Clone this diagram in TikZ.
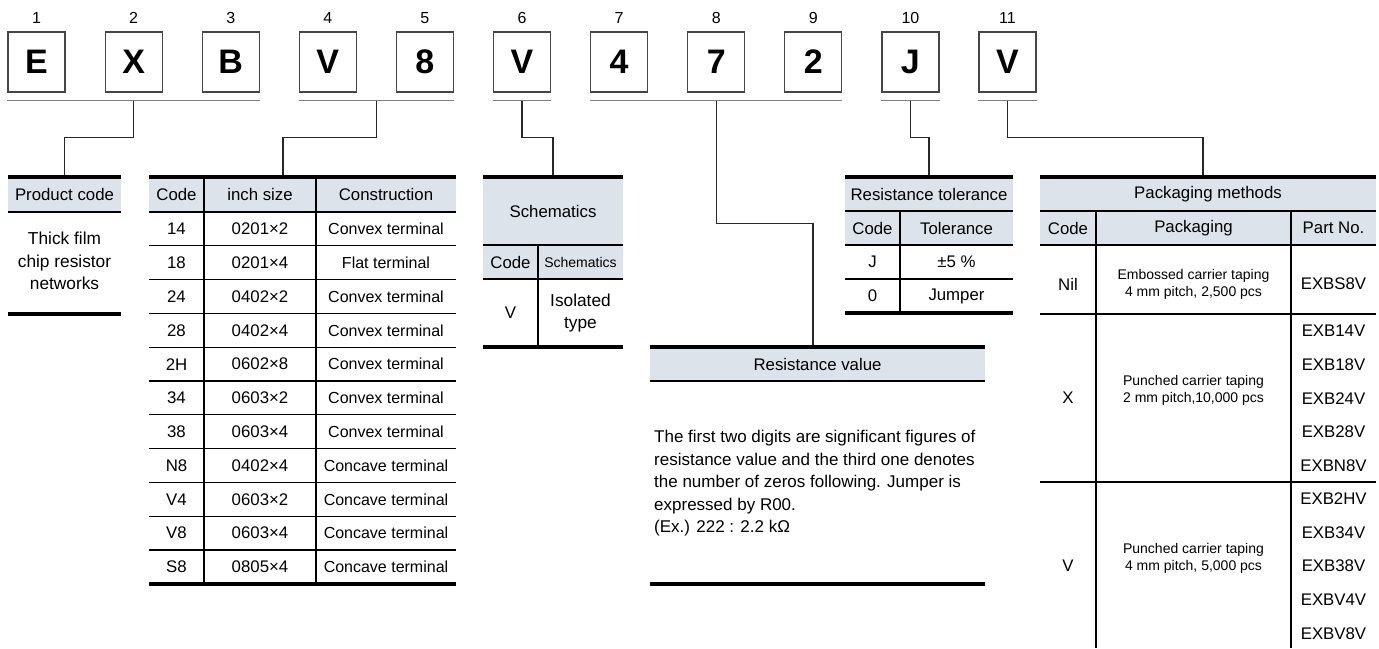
\documentclass[tikz,border=0pt]{standalone}
\usepackage{fontspec}
\setmainfont{Liberation Sans}
\usetikzlibrary{positioning}
\definecolor{headerColor}{RGB}{220,227,235}
\definecolor{boxColor}{RGB}{70,70,70}
\definecolor{ruleColor}{RGB}{128,128,128}
\definecolor{leaderColor}{RGB}{40,40,40}
\tikzstyle{sheet} = [x = 1pt, y = -1pt]
\tikzstyle{charBox} = [draw=boxColor, line width=1.2pt, minimum width=57pt, minimum height=60pt, inner sep=0pt, font=\fontsize{34}{34}\selectfont\bfseries]
\tikzstyle{numText} = [inner sep=0pt, font=\fontsize{16}{16}\selectfont]
\tikzstyle{groupLine} = [color=ruleColor, line width=1.3pt]
\tikzstyle{leaderLine} = [color=leaderColor, line width=1.3pt]
\tikzstyle{thickLine} = [color=black, line width=4pt]
\tikzstyle{tableLine} = [color=black, line width=1.3pt]
\tikzstyle{headerFill} = [fill=headerColor]
\tikzstyle{cellText} = [inner sep=0pt, font=\fontsize{16.8}{19}\selectfont, align=center]
\tikzstyle{kindText} = [inner sep=0pt, font=\fontsize{16}{19}\selectfont, align=center]
\tikzstyle{smallText} = [inner sep=0pt, font=\fontsize{14}{17}\selectfont, align=center]
\tikzstyle{bodyText} = [inner sep=0pt, font=\fontsize{17.3}{22.5}\selectfont, align=center]
\tikzstyle{noteText} = [inner sep=0pt, font=\fontsize{17}{22.5}\selectfont, align=left, anchor=north west]
\newcommand{\headerBand}[4]{\fill [headerFill] (#1, #2) rectangle (#3, #4);}
\newcommand{\thickRule}[3]{\draw [thickLine] (#1, #3) -- (#2, #3);}
\newcommand{\thinRule}[3]{\draw [tableLine] (#1, #3) -- (#2, #3);}
\newcommand{\columnRule}[3]{\draw [tableLine] (#1, #2) -- (#1, #3);}
\begin{document}
\begin{tikzpicture}[sheet]
  \useasboundingbox (0, 0) rectangle (1379, 648);

  % part number boxes
  \foreach \i/\ch in {1/E,2/X,3/B,4/V,5/8,6/V,7/4,8/7,9/2,10/J,11/V} {
    \node [charBox] (c\i) at ({36.5 + 97.1*(\i-1)}, 62) {\ch};
    \node [numText, above=8pt of c\i] (n\i) {\i};
  }
  \draw [groupLine] ([yshift=-8pt]c1.south west) -- ([yshift=-8pt]c3.south east);
  \draw [groupLine] ([yshift=-8pt]c4.south west) -- ([yshift=-8pt]c5.south east);
  \draw [groupLine] ([yshift=-8pt]c6.south west) -- ([yshift=-8pt]c6.south east);
  \draw [groupLine] ([yshift=-8pt]c7.south west) -- ([yshift=-8pt]c9.south east);
  \draw [groupLine] ([yshift=-8pt]c10.south west) -- ([yshift=-8pt]c10.south east);
  \draw [groupLine] ([yshift=-8pt]c11.south west) -- ([yshift=-8pt]c11.south east);

  % leaders
  \coordinate (u1) at ([yshift=-8pt]c2.south);
  \coordinate (u2) at ([yshift=-8pt, xshift=48.55pt]c4.south);
  \coordinate (u3) at ([yshift=-8pt]c6.south);
  \coordinate (u4) at ([yshift=-8pt]c8.south);
  \coordinate (u5) at ([yshift=-8pt]c10.south);
  \coordinate (u6) at ([yshift=-8pt]c11.south);
  \coordinate (t1) at (64.5, 177);
  \coordinate (t2) at (283, 177);
  \coordinate (t3) at (553, 177);
  \coordinate (t4) at (813, 347);
  \coordinate (t5) at (929, 177);
  \coordinate (t6) at (1203, 177);
  \draw [leaderLine] (u1) -- ++(0, 37) -| (t1);
  \draw [leaderLine] (u2) -- ++(0, 37) -| (t2);
  \draw [leaderLine] (u3) -- ++(0, 37) -| (t3);
  \draw [leaderLine] (u4) -- ++(0, 123) -| (t4);
  \draw [leaderLine] (u5) -- ++(0, 37) -| (t5);
  \draw [leaderLine] (u6) -- ++(0, 37) -| (t6);

  % product code
  \headerBand{8}{177}{121}{212}
  \thickRule{8}{121}{177}
  \thinRule{8}{121}{212}
  \thickRule{8}{121}{314}
  \node [cellText] (productHead) at (64.5, 194.5) {Product code};
  \node [bodyText] (productBody) at (64.5, 261) {Thick film\\chip resistor\\networks};

  % size code
  \headerBand{149}{177}{456}{212}
  \thickRule{149}{456}{177}
  \foreach \r in {0,...,10} {
    \thinRule{149}{456}{212 + 33.8*\r}
  }
  \thickRule{149}{456}{584}
  \columnRule{204}{177}{584}
  \columnRule{316}{177}{584}
  \node [cellText] (codeHead) at (176.5, 194.5) {Code};
  \node [cellText] (sizeHead) at (260, 194.5) {inch size};
  \node [cellText] (kindHead) at (386, 194.5) {Construction};
  \foreach \code/\size/\kind [count=\r from 0] in {14/0201×2/Convex terminal, 18/0201×4/Flat terminal,
      24/0402×2/Convex terminal, 28/0402×4/Convex terminal, 2H/0602×8/Convex terminal,
      34/0603×2/Convex terminal, 38/0603×4/Convex terminal, N8/0402×4/Concave terminal,
      V4/0603×2/Concave terminal, V8/0603×4/Concave terminal, S8/0805×4/Concave terminal} {
    \node [cellText] (code\r) at (176.5, {229 + 33.8*\r}) {\code};
    \node [cellText] (size\r) at (260, {229 + 33.8*\r}) {\size};
    \node [kindText] (kind\r) at (386, {229 + 33.8*\r}) {\kind};
  }

  % schematics
  \headerBand{483}{177}{623}{279}
  \thickRule{483}{623}{177}
  \thinRule{483}{623}{245}
  \thinRule{483}{623}{279}
  \thickRule{483}{623}{347}
  \columnRule{538}{245}{347}
  \node [cellText] (schemHead) at (553, 211) {Schematics};
  \node [cellText] (schemCode) at (510.5, 262) {Code};
  \node [smallText] (schemSub) at (580.5, 262) {Schematics};
  \node [cellText] (schemV) at (510.5, 313) {V};
  \node [bodyText] (schemType) at (580.5, 313) {Isolated\\type};

  % resistance tolerance
  \headerBand{845}{177}{1013}{245}
  \thickRule{845}{1013}{177}
  \thinRule{845}{1013}{211}
  \thinRule{845}{1013}{245}
  \thinRule{845}{1013}{279}
  \thickRule{845}{1013}{313}
  \columnRule{900}{211}{313}
  \node [cellText] (tolHead) at (929, 194) {Resistance tolerance};
  \node [cellText] (tolCode) at (872.5, 228) {Code};
  \node [cellText] (tolSub) at (956.5, 228) {Tolerance};
  \node [cellText] (tolJ) at (872.5, 262) {J};
  \node [cellText] (tolFive) at (956.5, 262) {±5 \%};
  \node [cellText] (tolZero) at (872.5, 296) {0};
  \node [cellText] (tolJumper) at (956.5, 296) {Jumper};

  % resistance value
  \headerBand{650}{347}{985}{381}
  \thickRule{650}{985}{347}
  \thinRule{650}{985}{381}
  \thickRule{650}{985}{584}
  \node [cellText] (valueHead) at (817.5, 364) {Resistance value};
  \node [noteText] (valueNote) at (654, 430) {The first two digits are significant figures of\\resistance value and the third one denotes\\the number of zeros following. Jumper is\\expressed by R00.\\(Ex.) 222 : 2.2 kΩ};

  % packaging methods
  \headerBand{1040}{177}{1376}{245}
  \thickRule{1040}{1376}{177}
  \thinRule{1040}{1376}{211}
  \thinRule{1040}{1376}{245}
  \thinRule{1040}{1376}{314}
  \thinRule{1040}{1376}{482}
  \columnRule{1096}{211}{648}
  \columnRule{1291}{211}{648}
  \node [cellText] (packHead) at (1208, 194) {Packaging methods};
  \node [cellText] (packCode) at (1068, 228) {Code};
  \node [cellText] (packSub) at (1193.5, 228) {Packaging};
  \node [cellText] (packPart) at (1333.5, 228) {Part No.};
  \node [cellText] (packNil) at (1068, 284) {Nil};
  \node [smallText] (packNilText) at (1193.5, 284) {Embossed carrier taping\\4 mm pitch, 2,500 pcs};
  \node [cellText] (partNil) at (1333.5, 284) {EXBS8V};
  \node [cellText] (packX) at (1068, 398) {X};
  \node [smallText] (packXText) at (1193.5, 390) {Punched carrier taping\\2 mm pitch,10,000 pcs};
  \node [cellText] (packV) at (1068, 566) {V};
  \node [smallText] (packVText) at (1193.5, 558) {Punched carrier taping\\4 mm pitch, 5,000 pcs};
  \foreach \part [count=\k from 0] in {EXB14V,EXB18V,EXB24V,EXB28V,EXBN8V} {
    \node [cellText] (partX\k) at (1333.5, {331 + 33.6*\k}) {\part};
  }
  \foreach \part [count=\k from 0] in {EXB2HV,EXB34V,EXB38V,EXBV4V,EXBV8V} {
    \node [cellText] (partV\k) at (1333.5, {499 + 33.6*\k}) {\part};
  }
\end{tikzpicture}
\end{document}
